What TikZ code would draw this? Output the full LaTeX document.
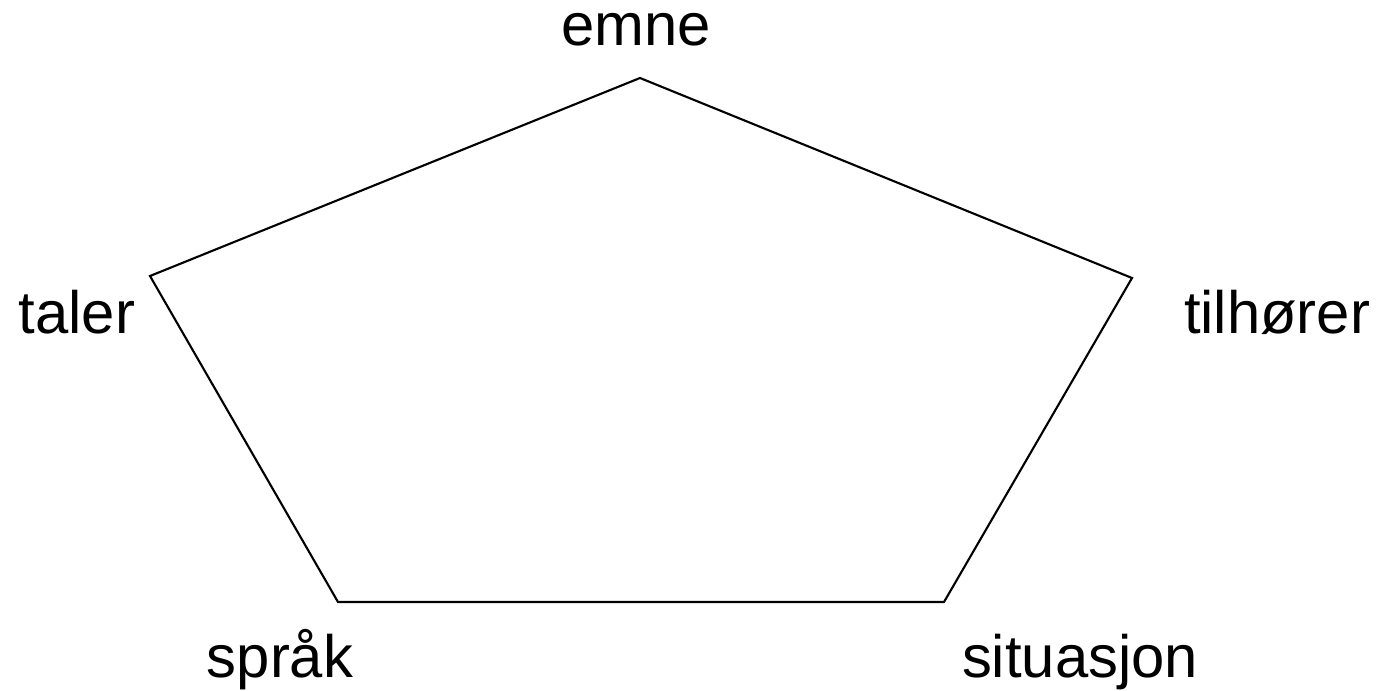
\documentclass[tikz,border=0pt]{standalone}
\usepackage{fontspec}
\setmainfont{Liberation Sans}
\begin{document}
\begin{tikzpicture}[x=0.01cm,y=-0.01cm,font=\fontsize{17}{20}\selectfont,
  corner label/.style={anchor=base,inner sep=0pt}]
\useasboundingbox (0,0) rectangle (1388,691);

% hjørnene
\coordinate (emne) at (640,78);
\coordinate (tilhorer) at (1132,278);
\coordinate (situasjon) at (944,602);
\coordinate (sprak) at (338,602);
\coordinate (taler) at (150,276);

\draw[line width=0.6pt] (emne) -- (tilhorer) -- (situasjon) -- (sprak) -- (taler) -- cycle;

\foreach \x/\y/\name/\txt in {636/46/emne/emne,77/333/taler/taler,1277/333/tilhorer/tilhører,280/677/sprak/språk,1080/677/situasjon/situasjon}{%
\node[corner label] (\name-label) at (\x,\y) {\txt};
}
\end{tikzpicture}
\end{document}
